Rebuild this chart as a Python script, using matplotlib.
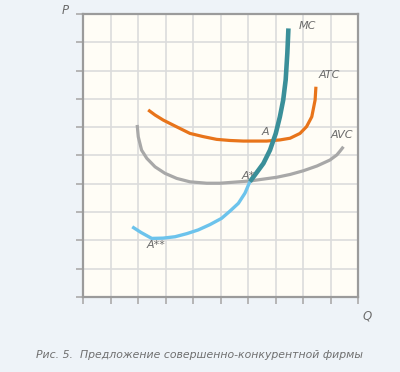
# Supply curve of a perfectly competitive firm (MC, ATC, AVC)
import matplotlib.pyplot as plt

# curves, in grid units (10 x 10 cells)
mc_low_q = [1.79, 2.11, 2.50, 2.91, 3.35, 3.78, 4.19, 4.62, 5.04, 5.35, 5.65, 5.89, 6.07]
mc_low_p = [2.48, 2.28, 2.07, 2.08, 2.13, 2.24, 2.37, 2.56, 2.78, 3.04, 3.31, 3.67, 4.08]

mc_high_q = [6.07, 6.25, 6.56, 6.80, 7.01, 7.16, 7.28, 7.37, 7.43, 7.47]
mc_high_p = [4.08, 4.31, 4.72, 5.19, 5.78, 6.37, 6.96, 7.67, 8.61, 9.49]

atc_q = [2.37, 2.62, 2.92, 3.35, 3.89, 4.36, 4.86, 5.35, 5.83, 6.68, 7.16, 7.53,
         7.89, 8.13, 8.32, 8.44, 8.47]
atc_p = [6.61, 6.43, 6.25, 6.04, 5.78, 5.67, 5.57, 5.53, 5.51, 5.51, 5.55, 5.61,
         5.78, 6.02, 6.37, 6.96, 7.43]

avc_q = [1.97, 2.01, 2.13, 2.32, 2.62, 2.98, 3.41, 3.89, 4.50, 4.98, 6.07, 7.04,
         7.53, 8.01, 8.51, 8.98, 9.23, 9.35, 9.47]
avc_p = [6.08, 5.66, 5.19, 4.90, 4.60, 4.37, 4.19, 4.07, 4.02, 4.02, 4.10, 4.23,
         4.33, 4.46, 4.63, 4.84, 5.02, 5.16, 5.31]

# labels: (text, q, p)
labels = [
    ("MC", 7.85, 9.58),
    ("ATC", 8.56, 7.84),
    ("A", 6.49, 5.84),
    ("AVC", 9.0, 5.72),
    ("A*", 5.75, 4.28),
    ("A**", 2.32, 1.84),
]

txt_color = "#6b6b6b"

fig = plt.figure(figsize=(4, 3.72), dpi=100, facecolor="#eef3f8")
ax = fig.add_axes([0.2075, 0.2016, 0.6875, 0.7608])
ax.set_facecolor("#fffdf6")

ax.set_xlim(0, 10)
ax.set_ylim(0, 10)
ax.set_xticks(range(11))
ax.set_yticks(range(11))
ax.set_xticklabels([])
ax.set_yticklabels([])
ax.grid(True, color="#dcdcdc", lw=1.2)
ax.set_axisbelow(True)
ax.tick_params(direction="out", length=5, width=1.3, color="#b0b0b0")
for s in ax.spines.values():
    s.set_color("#9b9b9b")
    s.set_linewidth(1.6)

# curves
ax.plot(avc_q, avc_p, color="#a8a8a8", lw=2.3, solid_capstyle="butt",
        solid_joinstyle="round")
ax.plot(atc_q, atc_p, color="#e8741a", lw=2.3, solid_capstyle="butt",
        solid_joinstyle="round")
ax.plot(mc_low_q, mc_low_p, color="#6cc3ec", lw=2.4, solid_capstyle="butt",
        solid_joinstyle="round")
ax.plot(mc_high_q, mc_high_p, color="#3a8f99", lw=3.3, solid_capstyle="butt",
        solid_joinstyle="round")

for t, q, p in labels:
    ax.text(q, p, t, fontsize=8, style="italic", color=txt_color,
            ha="left", va="center")

fig.text(61.7 / 400, 1 - 10.7 / 372, "P", fontsize=8.5, style="italic",
         color=txt_color, ha="left", va="center")
fig.text(363 / 400, 1 - 316 / 372, "Q", fontsize=8.5, style="italic",
         color=txt_color, ha="left", va="center")

fig.text(0.4975, 1 - 355 / 372,
         "Рис. 5.  Предложение совершенно-конкурентной фирмы",
         fontsize=7.8, style="italic", color="#6f6f6f", ha="center", va="center")

fig.savefig("out.png", dpi=100, facecolor=fig.get_facecolor())
